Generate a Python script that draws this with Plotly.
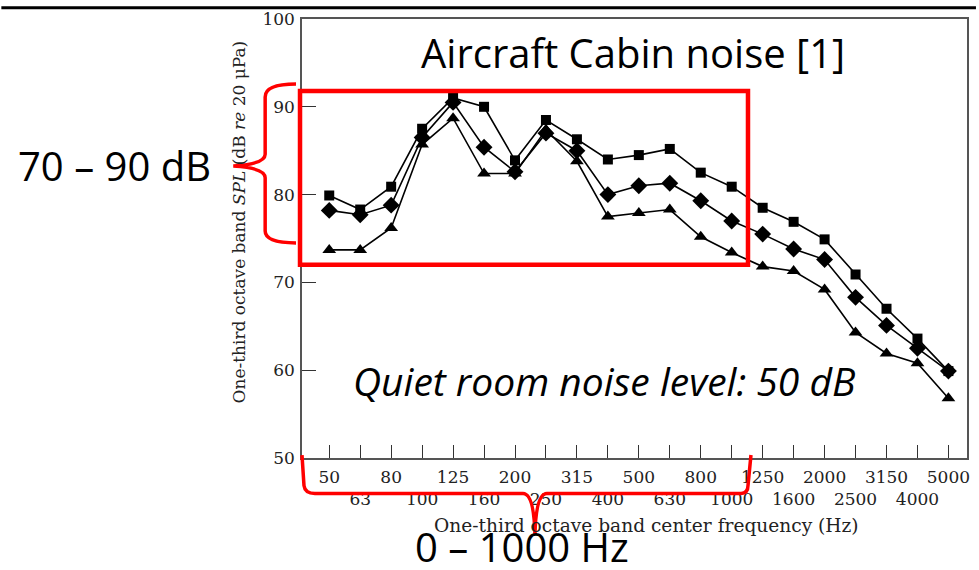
import plotly.graph_objects as go

# One-third octave band centre frequencies (Hz)
freq_labels = ["50", "63", "80", "100", "125", "160", "200", "250", "315", "400",
               "500", "630", "800", "1000", "1250", "1600", "2000", "2500", "3150",
               "4000", "5000"]

# Measured cabin SPL in dB re 20 uPa for three seat positions
spl_square = [79.9, 78.3, 80.9, 87.5, 91.0, 90.0, 83.9, 88.5, 86.3, 84.0, 84.5,
              85.2, 82.5, 80.9, 78.5, 76.9, 74.9, 70.9, 67.0, 63.6, 59.9]
spl_diamond = [78.2, 77.7, 78.8, 86.5, 90.5, 85.4, 82.6, 87.0, 85.0, 80.0, 81.0,
               81.3, 79.3, 77.0, 75.5, 73.8, 72.6, 68.3, 65.1, 62.5, 59.9]
spl_triangle = [73.7, 73.7, 76.2, 85.7, 88.7, 82.4, 82.4, 87.4, 83.8, 77.5, 77.9,
                78.3, 75.2, 73.4, 71.8, 71.3, 69.2, 64.3, 61.9, 60.8, 56.8]

y_ticks = [50, 60, 70, 80, 90, 100]

W, H = 979, 570
L, R, T, B = 302, 9, 13, 112
PW, PH = W - L - R, H - T - B


def px(x):
    """page pixel x -> paper x"""
    return (x - L) / PW


def py(y):
    """page pixel y -> paper y"""
    return (H - B - y) / PH


idx = list(range(len(freq_labels)))
# alternate bands drop to a second label row
tick_text = [f if i % 2 == 0 else "<br>" + f for i, f in enumerate(freq_labels)]

fig = go.Figure()
for vals, sym, size in [(spl_square, "square", 10),
                        (spl_diamond, "diamond", 13),
                        (spl_triangle, "triangle-up", 12)]:
    fig.add_trace(go.Scatter(
        x=idx, y=vals, mode="lines+markers",
        line=dict(color="black", width=1.6),
        marker=dict(symbol=sym, size=size, color="black"),
        showlegend=False, cliponaxis=False,
    ))

serif = "DejaVu Serif"
fig.update_layout(
    width=W, height=H,
    margin=dict(l=L, r=R, t=T, b=B),
    paper_bgcolor="white", plot_bgcolor="white",
    xaxis=dict(
        range=[-0.88, 20.6], tickmode="array", tickvals=idx, ticktext=tick_text,
        tickangle=0,
        ticks="inside", ticklen=13, tickwidth=1, tickcolor="#333",
        showgrid=False, zeroline=False,
        showline=True, linecolor="#555", linewidth=1.5, mirror=True,
        tickfont=dict(family=serif, size=17, color="#222"),
        ticklabelstandoff=3,
    ),
    yaxis=dict(
        range=[50, 100], tickmode="array", tickvals=y_ticks,
        ticks="inside", ticklen=14, tickwidth=1, tickcolor="#333",
        showgrid=False, zeroline=False,
        showline=True, linecolor="#555", linewidth=1.5, mirror=True,
        tickfont=dict(family=serif, size=17, color="#222"),
        ticklabelstandoff=2,
    ),
)

# Axis titles
fig.add_annotation(
    xref="paper", yref="paper", x=px(239), y=py(219),
    text="One-third octave band <i>SPL</i> (dB <i>re</i> 20 μPa)",
    textangle=-90, showarrow=False, xanchor="center", yanchor="middle",
    font=dict(family=serif, size=17, color="#222"),
)
fig.add_annotation(
    xref="paper", yref="paper", x=px(648), y=py(526),
    text="One-third octave band center frequency (Hz)",
    showarrow=False, xanchor="center", yanchor="middle",
    font=dict(family=serif, size=18.6, color="#222"),
)

# Slide text
sans = "Open Sans"
fig.add_annotation(xref="paper", yref="paper", x=px(634), y=py(47),
                   text="Aircraft Cabin noise [1]", showarrow=False,
                   xanchor="center", yanchor="middle",
                   font=dict(family=sans, size=40, color="black"))
fig.add_annotation(xref="paper", yref="paper", x=px(605), y=py(379),
                   text="<i>Quiet room noise level: 50 dB</i>", showarrow=False,
                   xanchor="center", yanchor="middle",
                   font=dict(family=sans, size=39, color="black"))
fig.add_annotation(xref="paper", yref="paper", x=px(114), y=py(161),
                   text="70 – 90 dB", showarrow=False,
                   xanchor="center", yanchor="middle",
                   font=dict(family=sans, size=40, color="black"))
fig.add_annotation(xref="paper", yref="paper", x=px(523), y=py(548),
                   text="0 – 1000 Hz", showarrow=False,
                   xanchor="center", yanchor="middle",
                   font=dict(family=sans, size=40, color="black"))


def path(points):
    out = []
    for cmd, *coords in points:
        pairs = [f"{px(coords[i]):.5f},{py(coords[i + 1]):.5f}"
                 for i in range(0, len(coords), 2)]
        out.append(cmd + " " + " ".join(pairs))
    return " ".join(out)


red = "#ff0000"
# Highlight box over the 70-90 dB / low-frequency region
fig.add_shape(type="path", xref="paper", yref="paper",
              path=path([("M", 300, 86), ("L", 750, 86), ("L", 750, 262),
                         ("L", 300, 262), ("Z",)]),
              line=dict(color=red, width=4.5))
# Brace next to the SPL axis
fig.add_shape(type="path", xref="paper", yref="paper",
              path=path([("M", 296, 79), ("Q", 265, 79, 265, 92),
                         ("L", 265, 150), ("Q", 265, 160, 233, 162),
                         ("Q", 265, 164, 265, 174), ("L", 265, 228),
                         ("Q", 265, 240, 296, 240)]),
              line=dict(color=red, width=3.5))
# Brace under the frequency axis
fig.add_shape(type="path", xref="paper", yref="paper",
              path=path([("M", 302, 455), ("L", 304, 486),
                         ("Q", 305, 494, 315, 494), ("L", 524, 494),
                         ("Q", 535, 494, 536, 536), ("Q", 537, 494, 548, 494),
                         ("L", 743, 494), ("Q", 750, 494, 750, 486),
                         ("L", 753, 455)]),
              line=dict(color=red, width=3.5))
# Rule along the top edge of the page
fig.add_shape(type="rect", xref="paper", yref="paper",
              x0=px(0), x1=px(W), y0=py(3), y1=py(0),
              fillcolor="black", line=dict(width=0))

fig.write_html("out.html")
